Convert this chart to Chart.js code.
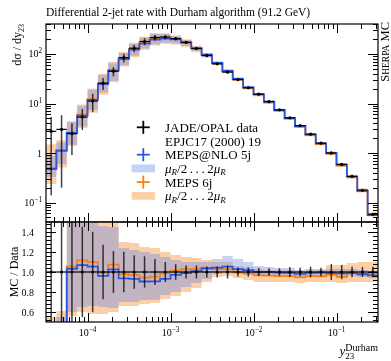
<!DOCTYPE html>
<html>
<head>
<meta charset="utf-8">
<script src="https://cdn.jsdelivr.net/npm/chart.js@4.4.1/dist/chart.umd.min.js"></script>
<style>
  html, body { margin: 0; padding: 0; background: #fff; }
  #wrap { position: relative; width: 391px; height: 361px; }
  canvas { position: absolute; left: 0; top: 0; }
</style>
</head>
<body>
<div id="wrap">
  <canvas id="main" width="391" height="361"></canvas>
  <canvas id="ratio" width="391" height="361"></canvas>
</div>
<script>
// y23 bin edges (log-spaced, 8 per decade)
const binEdges = [3.162e-5, 4.217e-5, 5.623e-5, 7.499e-5, 1.0e-4, 1.334e-4, 1.778e-4, 2.371e-4,
  3.162e-4, 4.217e-4, 5.623e-4, 7.499e-4, 1.0e-3, 1.334e-3, 1.778e-3, 2.371e-3,
  3.162e-3, 4.217e-3, 5.623e-3, 7.499e-3, 1.0e-2, 1.334e-2, 1.778e-2, 2.371e-2,
  3.162e-2, 4.217e-2, 5.623e-2, 7.499e-2, 0.1, 0.1334, 0.1778, 0.2371, 0.3162];

// JADE/OPAL data
const dataVals = [2.74, 3.0, 2.46, 5.31, 11.2, 25.8, 44.8, 84.4, 131, 179, 215, 220, 204, 172, 129, 93,
  63.2, 43.1, 30.4, 20.8, 15.4, 10.9, 7.45, 5.14, 3.58, 2.40, 1.58, 1.00, 0.588, 0.336, 0.177, 0.058];
const dataErr = [2.6, 2.8, 1.55, 2.4, 4.5, 7.0, 9.4, 17, 22, 28, 28, 22, 16, 11, 8.4, 5.0,
  3.4, 2.8, 1.37, 0.94, 0.62, 0.41, 0.28, 0.26, 0.15, 0.13, 0.066, 0.08, 0.042, 0.018, 0.009, 0.0031];

// MEPS@NLO 5j and MEPS 6j
const mepsNlo = [0.475, 1.11, 2.54, 5.67, 11.8, 24.8, 46, 79, 122, 162, 195, 205, 198, 170, 130, 96.5,
  66, 45.4, 31.3, 21.2, 15.4, 10.9, 7.4, 5.1, 3.51, 2.38, 1.57, 0.99, 0.58, 0.332, 0.173, 0.056];
const meps6j = [0.5, 1.15, 2.60, 5.93, 12.3, 25.6, 48.1, 82.5, 127, 169, 205, 217, 207, 177, 133, 96.5,
  65.1, 44.3, 30.4, 20.5, 14.9, 10.5, 7.15, 4.93, 3.39, 2.30, 1.51, 0.973, 0.559, 0.334, 0.174, 0.057];

const nloBandLo = [0.12, 0.2, 0.6, 0.65, 0.66, 0.65, 0.64, 0.70, 0.70, 0.72, 0.72, 0.77, 0.80, 0.85, 0.89, 0.93,
  0.98, 1.0, 0.98, 0.97, 0.96, 0.96, 0.96, 0.96, 0.95, 0.96, 0.96, 0.96, 0.96, 0.96, 0.95, 0.94];
const nloBandHi = [0.32, 0.55, 1.7, 1.7, 1.7, 1.46, 1.45, 1.24, 1.22, 1.2, 1.18, 1.15, 1.12, 1.1, 1.1, 1.1,
  1.13, 1.16, 1.13, 1.1, 1.06, 1.05, 1.04, 1.04, 1.02, 1.03, 1.03, 1.03, 1.03, 1.03, 1.02, 1.01];
const lo6jBandLo = [0.086, 0.17, 0.56, 0.6, 0.58, 0.58, 0.6, 0.66, 0.66, 0.68, 0.69, 0.73, 0.76, 0.8, 0.84, 0.9,
  0.95, 0.96, 0.94, 0.92, 0.9, 0.9, 0.9, 0.9, 0.89, 0.9, 0.9, 0.9, 0.89, 0.9, 0.9, 0.9];
const lo6jBandHi = [0.55, 0.61, 1.8, 1.8, 1.8, 1.55, 1.55, 1.3, 1.29, 1.25, 1.24, 1.2, 1.17, 1.15, 1.14, 1.12,
  1.1, 1.1, 1.06, 1.05, 1.03, 1.02, 1.02, 1.02, 1.0, 1.02, 1.02, 1.07, 1.07, 1.09, 1.1, 1.1];

// tick labels
const xLabelVals = [1e-4, 1e-3, 1e-2, 1e-1];
const xLabelExps = ["\u22124", "\u22123", "\u22122", "\u22121"];
const yLabelVals = [0.1, 1, 10, 100];
const yLabelBase = ["10", "1", "10", "10"];
const yLabelExps = ["\u22121", "", "1", "2"];
const ratioLabelVals = [0.6, 0.8, 1.0, 1.2, 1.4];

const yMin = 0.0404, yMax = 403.6;
const rMin = 0.5, rMax = 1.5;

const FONT = '"Liberation Serif", "Times New Roman", serif';
const BLUE = "#2b57e6";
const ORANGE = "#ff7f0e";
const BLUE_BAND = "rgba(110,140,235,0.4)";
const ORANGE_BAND = "rgba(250,160,80,0.5)";

const steps = (vals) => {
  const pts = vals.map((v, i) => ({ x: binEdges[i], y: v }));
  pts.push({ x: binEdges[vals.length], y: vals[vals.length - 1] });
  return pts;
};
const centers = dataVals.map((_, i) => Math.sqrt(binEdges[i] * binEdges[i + 1]));
const toRatio = (vals) => vals.map((v, i) => v / dataVals[i]);
const toAbs = (ratios) => ratios.map((r, i) => r * dataVals[i]);

function bandSets(hi, lo, color, order) {
  return [
    { data: steps(hi), stepped: true, fill: "+1", backgroundColor: color, borderWidth: 0, pointRadius: 0, order },
    { data: steps(lo), stepped: true, fill: false, borderWidth: 0, pointRadius: 0, order },
  ];
}
function lineSet(vals, color, order) {
  return { data: steps(vals), stepped: true, fill: false, borderColor: color, borderWidth: 1.8, pointRadius: 0, order };
}

function logTicks(min, max) {
  const out = [];
  for (let d = Math.floor(Math.log10(min)); d <= Math.ceil(Math.log10(max)); d++) {
    for (let m = 1; m <= 9; m++) {
      const v = m * Math.pow(10, d);
      if (v >= min && v <= max) out.push({ v, major: m === 1 });
    }
  }
  return out;
}
function linTicks(min, max, step, majorStep) {
  const out = [];
  for (let k = Math.ceil(min / step - 1e-9); k * step <= max + 1e-9; k++) {
    const v = k * step;
    const r = v / majorStep;
    out.push({ v, major: Math.abs(r - Math.round(r)) < 1e-6 });
  }
  return out;
}

function drawPow(ctx, base, exp, x, y, size, align) {
  const es = size * 0.72;
  ctx.font = size + "px " + FONT;
  const wb = ctx.measureText(base).width;
  ctx.font = es + "px " + FONT;
  const we = exp ? ctx.measureText(exp).width : 0;
  const w = wb + we;
  const x0 = align === "right" ? x - w : align === "center" ? x - w / 2 : x;
  ctx.textAlign = "left";
  ctx.font = size + "px " + FONT;
  ctx.fillText(base, x0, y);
  if (exp) {
    ctx.font = es + "px " + FONT;
    ctx.fillText(exp, x0 + wb, y - size * 0.42);
  }
}

function line(ctx, x1, y1, x2, y2) {
  ctx.beginPath();
  ctx.moveTo(x1, y1);
  ctx.lineTo(x2, y2);
  ctx.stroke();
}

// frame with inward ticks on all four sides
function framePlugin(yTicks) {
  return {
    id: "frame",
    afterDatasetsDraw(chart) {
      const { ctx, chartArea: a } = chart;
      const xs = chart.scales.x, ys = chart.scales.y;
      ctx.save();
      ctx.strokeStyle = "#000";
      ctx.lineWidth = 1;
      logTicks(binEdges[0], binEdges[binEdges.length - 1]).forEach((t) => {
        const px = Math.round(xs.getPixelForValue(t.v)) + 0.5;
        const L = t.major ? 9 : 5;
        line(ctx, px, a.top, px, a.top + L);
        line(ctx, px, a.bottom, px, a.bottom - L);
      });
      yTicks.forEach((t) => {
        const py = Math.round(ys.getPixelForValue(t.v)) + 0.5;
        const L = t.major ? 10 : 5;
        line(ctx, a.left, py, a.left + L, py);
        line(ctx, a.right, py, a.right - L, py);
      });
      ctx.lineWidth = 1.2;
      ctx.strokeRect(a.left, a.top, a.right - a.left, a.bottom - a.top);
      ctx.restore();
    },
  };
}

// data points with error bars
function errorPlugin(vals, errs, minVal) {
  return {
    id: "errors",
    afterDatasetsDraw(chart) {
      const { ctx, chartArea: a } = chart;
      const xs = chart.scales.x, ys = chart.scales.y;
      ctx.save();
      ctx.beginPath();
      ctx.rect(a.left, a.top, a.right - a.left, a.bottom - a.top);
      ctx.clip();
      vals.forEach((v, i) => {
        const xc = xs.getPixelForValue(centers[i]);
        const x1 = xs.getPixelForValue(binEdges[i]);
        const x2 = xs.getPixelForValue(binEdges[i + 1]);
        const yc = ys.getPixelForValue(v);
        const yl = ys.getPixelForValue(Math.max(v - errs[i], minVal));
        const yh = ys.getPixelForValue(v + errs[i]);
        ctx.strokeStyle = "rgba(0,0,0,0.75)";
        ctx.lineWidth = 1.5;
        line(ctx, xc, yl, xc, yh);
        ctx.strokeStyle = "#000";
        ctx.lineWidth = 1.2;
        line(ctx, x1, yc, x2, yc);
        ctx.fillStyle = "#000";
        ctx.beginPath();
        ctx.arc(xc, yc, 1.6, 0, Math.PI * 2);
        ctx.fill();
      });
      ctx.restore();
    },
  };
}

const mainLabels = {
  id: "mainLabels",
  afterDraw(chart) {
    const { ctx, chartArea: a } = chart;
    const ys = chart.scales.y;
    ctx.save();
    ctx.fillStyle = "#000";
    ctx.textBaseline = "alphabetic";

    ctx.font = "11.5px " + FONT;
    ctx.textAlign = "left";
    ctx.fillText("Differential 2-jet rate with Durham algorithm (91.2 GeV)", a.left, 15.5);

    yLabelVals.forEach((v, i) => {
      drawPow(ctx, yLabelBase[i], yLabelExps[i], a.left - 4, ys.getPixelForValue(v) + 3.5, 10, "right");
    });

    // y title, rotated, ending at the top of the frame
    ctx.save();
    ctx.translate(20.5, a.top);
    ctx.rotate(-Math.PI / 2);
    ctx.font = "8px " + FONT;
    const wSub = ctx.measureText("23").width;
    ctx.font = "12px " + FONT;
    const wMain = ctx.measureText("d\u03c3 / dy").width;
    ctx.textAlign = "left";
    ctx.fillText("d\u03c3 / dy", -wMain - wSub, 0);
    ctx.font = "8px " + FONT;
    ctx.fillText("23", -wSub, 3);
    ctx.restore();

    // generator tag on the right
    ctx.save();
    ctx.translate(389, 22);
    ctx.rotate(-Math.PI / 2);
    const parts = [["S", 12.5], ["HERPA", 9.5], [" MC", 12.5]];
    let total = 0;
    parts.forEach(([s, f]) => { ctx.font = f + "px " + FONT; total += ctx.measureText(s).width; });
    let px = -total;
    parts.forEach(([s, f]) => {
      ctx.font = f + "px " + FONT;
      ctx.fillText(s, px, 0);
      px += ctx.measureText(s).width;
    });
    ctx.restore();

    // legend
    const mx = 143.3, tx = 165, y0 = 127.3, dy = 13.7;
    const cross = (cy, color) => {
      ctx.strokeStyle = color;
      ctx.lineWidth = 1.8;
      line(ctx, mx - 6.5, cy, mx + 6.5, cy);
      line(ctx, mx, cy - 6.5, mx, cy + 6.5);
    };
    const swatch = (cy, color) => {
      ctx.fillStyle = "#fff";
      ctx.fillRect(mx - 11.6, cy - 3.9, 23.3, 7.8);
      ctx.fillStyle = color;
      ctx.fillRect(mx - 11.6, cy - 3.9, 23.3, 7.8);
    };
    const text = (s, cy) => {
      ctx.fillStyle = "#000";
      ctx.font = "13px " + FONT;
      ctx.fillText(s, tx, cy + 4.5);
    };
    const muText = (cy) => {
      ctx.fillStyle = "#000";
      let x = tx;
      const seg = (s, font, dyy) => {
        ctx.font = font;
        ctx.fillText(s, x, cy + 4.5 + dyy);
        x += ctx.measureText(s).width;
      };
      seg("\u03bc", "italic 13px " + FONT, 0);
      seg("R", "italic 9px " + FONT, 2.5);
      seg("/2\u2009.\u2009.\u2009.\u20092", "13px " + FONT, 0);
      seg("\u03bc", "italic 13px " + FONT, 0);
      seg("R", "italic 9px " + FONT, 2.5);
    };
    cross(y0, "#000");
    text("JADE/OPAL data", y0);
    text("EPJC17 (2000) 19", y0 + dy);
    cross(y0 + 2 * dy, BLUE);
    text("MEPS@NLO 5j", y0 + 2 * dy);
    swatch(y0 + 3 * dy, BLUE_BAND);
    muText(y0 + 3 * dy);
    cross(y0 + 4 * dy, ORANGE);
    text("MEPS 6j", y0 + 4 * dy);
    swatch(y0 + 5 * dy, ORANGE_BAND);
    muText(y0 + 5 * dy);
    ctx.restore();
  },
};

const ratioLabels = {
  id: "ratioLabels",
  afterDraw(chart) {
    const { ctx, chartArea: a } = chart;
    const xs = chart.scales.x, ys = chart.scales.y;
    ctx.save();
    ctx.fillStyle = "#000";
    ctx.textBaseline = "alphabetic";
    ratioLabelVals.forEach((v) => {
      ctx.font = "10px " + FONT;
      ctx.textAlign = "right";
      ctx.fillText(v.toFixed(1), a.left - 12, ys.getPixelForValue(v) + 3.5);
    });
    xLabelVals.forEach((v, i) => {
      drawPow(ctx, "10", xLabelExps[i], xs.getPixelForValue(v), a.bottom + 14, 10, "center");
    });

    ctx.save();
    ctx.translate(18, (a.top + a.bottom) / 2);
    ctx.rotate(-Math.PI / 2);
    ctx.font = "12px " + FONT;
    ctx.textAlign = "center";
    ctx.fillText("MC / Data", 0, 0);
    ctx.restore();

    // x title: y_23^Durham, right aligned
    ctx.textAlign = "left";
    ctx.font = "10px " + FONT;
    const wSup = ctx.measureText("Durham").width;
    ctx.font = "italic 13px " + FONT;
    const wy = ctx.measureText("y").width;
    const x0 = a.right - wSup - wy;
    ctx.fillText("y", x0, 355);
    ctx.font = "9px " + FONT;
    ctx.fillText("23", x0 + wy, 359);
    ctx.font = "10px " + FONT;
    ctx.fillText("Durham", x0 + wy, 351);
    ctx.restore();
  },
};

const common = (padding, yScale) => ({
  responsive: false,
  animation: false,
  events: [],
  layout: { padding },
  plugins: { legend: { display: false }, tooltip: { enabled: false } },
  scales: {
    x: { type: "logarithmic", min: binEdges[0], max: binEdges[binEdges.length - 1], display: false },
    y: yScale,
  },
});

new Chart(document.getElementById("main"), {
  type: "line",
  data: {
    datasets: [
      ...bandSets(toAbs(lo6jBandHi), toAbs(lo6jBandLo), ORANGE_BAND, 6),
      ...bandSets(toAbs(nloBandHi), toAbs(nloBandLo), BLUE_BAND, 5),
      lineSet(meps6j, ORANGE, 2),
      lineSet(mepsNlo, BLUE, 1),
    ],
  },
  options: common({ left: 46, right: 13, top: 24, bottom: 139 },
    { type: "logarithmic", min: yMin, max: yMax, display: false }),
  plugins: [errorPlugin(dataVals, dataErr, yMin * 0.5), framePlugin(logTicks(yMin, yMax)), mainLabels],
});

new Chart(document.getElementById("ratio"), {
  type: "line",
  data: {
    datasets: [
      ...bandSets(lo6jBandHi, lo6jBandLo, ORANGE_BAND, 6),
      ...bandSets(nloBandHi, nloBandLo, BLUE_BAND, 5),
      lineSet(toRatio(meps6j), ORANGE, 2),
      lineSet(toRatio(mepsNlo), BLUE, 1),
    ],
  },
  options: common({ left: 46, right: 13, top: 222, bottom: 39 },
    { type: "linear", min: rMin, max: rMax, display: false }),
  plugins: [errorPlugin(dataVals.map(() => 1), dataErr.map((e, i) => e / dataVals[i]), rMin - 1),
    framePlugin(linTicks(rMin, rMax, 0.04, 0.2)), ratioLabels],
});
</script>
</body>
</html>
